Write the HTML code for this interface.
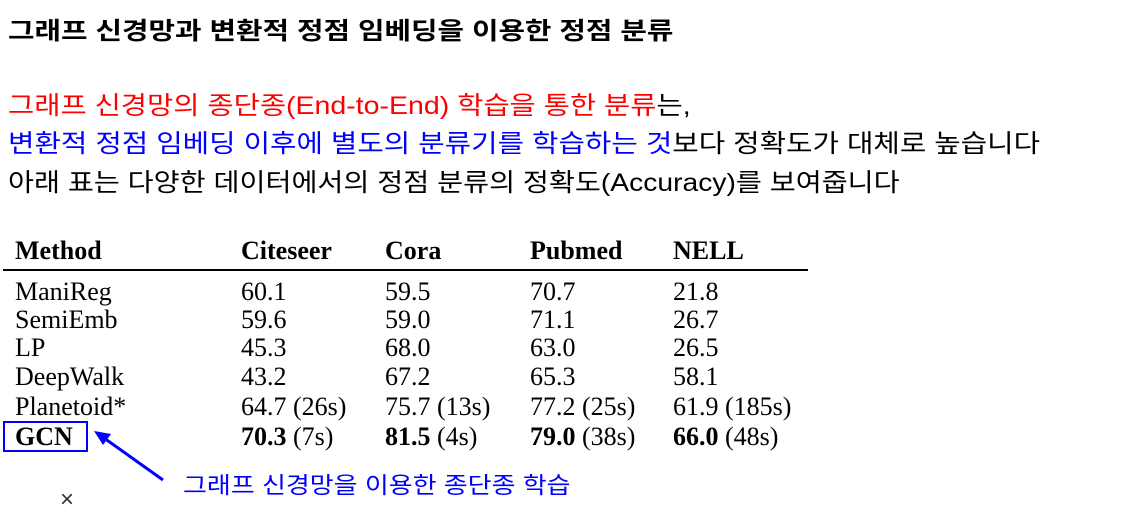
<!DOCTYPE html>
<html><head><meta charset="utf-8"><style>
body{margin:0;width:1141px;height:513px;background:#fff;position:relative;overflow:hidden;font-family:"Liberation Sans","Noto Sans CJK KR",sans-serif}
.t{position:absolute;white-space:nowrap;transform-origin:0 50%}
.s{font-family:"Liberation Serif","Noto Serif CJK SC",serif;font-size:26px;line-height:30px;color:#000}
.h{font-weight:bold}
</style></head><body>
<div class="t" style="left:8px;top:11px;font-size:24px;font-weight:bold;transform:scaleX(1.2)">그래프 신경망과 변환적 정점 임베딩을 이용한 정점 분류</div>
<div class="t" style="left:8px;top:86px;font-size:25px;transform:scaleX(1.14)"><span style="color:#f00">그래프 신경망의 종단종(End-to-End) 학습을 통한 분류</span>는,</div>
<div class="t" style="left:8px;top:124px;font-size:25px;transform:scaleX(1.15)"><span style="color:#00f">변환적 정점 임베딩 이후에 별도의 분류기를 학습하는 것</span>보다 정확도가 대체로 높습니다</div>
<div class="t" style="left:8px;top:163px;font-size:25px;transform:scaleX(1.13)">아래 표는 다양한 데이터에서의 정점 분류의 정확도(Accuracy)를 보여줍니다</div>

<div style="position:absolute;left:3px;top:269px;width:805px;height:1.5px;background:#000"></div>
<div id="tbl"></div>

<div style="position:absolute;left:3px;top:421px;width:81px;height:27px;border:2px solid #00f"></div>
<svg style="position:absolute;left:0;top:0" width="1141" height="513">
<line x1="163" y1="480" x2="104" y2="438" stroke="#00f" stroke-width="3"/>
<polygon points="94,431 111,434 103,445" fill="#00f"/>
</svg>
<div class="t" style="left:183px;top:466px;font-size:23px;color:#00f;transform:scaleX(1.13)">그래프 신경망을 이용한 종단종 학습</div>
<div class="t" style="left:60px;top:486px;font-size:24px;color:#333">×</div>

<script>
const headers=["Method","Citeseer","Cora","Pubmed","NELL"];
const methods=["ManiReg","SemiEmb","LP","DeepWalk","Planetoid*","GCN"];
const citeseer=["60.1","59.6","45.3","43.2","64.7 (26s)","<b>70.3</b> (7s)"];
const cora=["59.5","59.0","68.0","67.2","75.7 (13s)","<b>81.5</b> (4s)"];
const pubmed=["70.7","71.1","63.0","65.3","77.2 (25s)","<b>79.0</b> (38s)"];
const nell=["21.8","26.7","26.5","58.1","61.9 (185s)","<b>66.0</b> (48s)"];
const colX=[15,241,385,530,673];
const rowY=[277,305,333,362,392,422];
const tbl=document.getElementById('tbl');
function cell(html,x,y,bold,name){
 const d=document.createElement('div');
 d.className='t s'+(bold?' h':'');
 d.style.left=x+'px';d.style.top=y+'px';
 d.innerHTML=html;
 
 
 tbl.appendChild(d);
}
headers.forEach((h,i)=>cell(h,colX[i],236,true,'header-'+h.toLowerCase()));
const cols=[citeseer,cora,pubmed,nell];
methods.forEach((m,r)=>{
 cell(m,colX[0],rowY[r],m==="GCN",'method-'+m.toLowerCase().replace('*',''));
 cols.forEach((c,j)=>cell(c[r],colX[j+1],rowY[r],false,'cell-'+m.toLowerCase().replace('*','')+'-'+headers[j+1].toLowerCase()));
});
</script>
</body></html>
